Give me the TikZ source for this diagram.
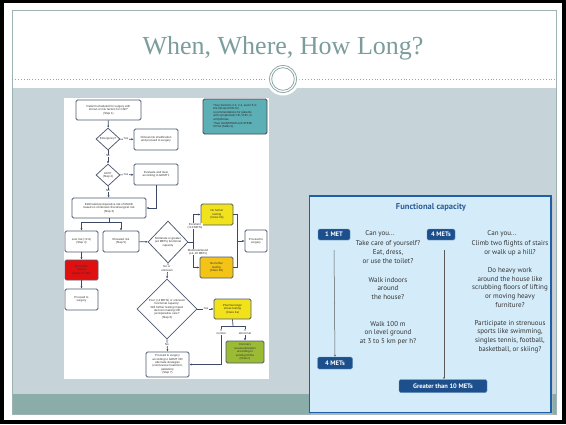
\documentclass[tikz,border=0pt]{standalone}
\usepackage{fontspec}
\setmainfont{Liberation Serif}
\newfontfamily\gill{PT Sans}
\newfontfamily\arial{Liberation Sans}
\usetikzlibrary{shapes.geometric,arrows.meta}
\definecolor{frameline}{HTML}{9DB3B3}
\definecolor{band}{HTML}{C6D3D9}
\definecolor{tealband}{HTML}{8AADA9}
\definecolor{titlec}{HTML}{7B9D9D}
\definecolor{ringc}{HTML}{8EA8A8}
\definecolor{fcborder}{HTML}{1F5FA8}
\definecolor{fcfill}{HTML}{D4ECF9}
\definecolor{fctitle}{HTML}{2B5C97}
\definecolor{badgec}{HTML}{1C4F8C}
\definecolor{badgebd}{HTML}{6A92C0}
\definecolor{fctext}{HTML}{333333}
\definecolor{flowbd}{HTML}{4F5A70}
\definecolor{flowln}{HTML}{3C4A68}
\definecolor{fyellow}{HTML}{F2E21B}
\definecolor{forange}{HTML}{F3C316}
\definecolor{fred}{HTML}{E01010}
\definecolor{fgreen}{HTML}{9CBB35}
\definecolor{fnote}{HTML}{5DAFB6}
\newcommand\ftx{\arial\fontsize{2.9}{3.4}\selectfont}
\begin{document}
\begin{tikzpicture}[x=1pt,y=-1pt,
  fb/.style={draw=flowbd,line width=0.75pt,rounded corners=1.5pt,fill=white,align=center,inner sep=0pt,font=\ftx,text=black!80},
  fd/.style={diamond,draw=flowbd,line width=0.75pt,fill=white,align=center,inner sep=0pt,font=\ftx,text=black!80},
  ar/.style={draw=flowln,line width=0.7pt,-{Latex[length=2.2pt,width=2pt]}},
  ln/.style={draw=flowln,line width=0.7pt},
  lab/.style={font=\ftx,inner sep=0.3pt,fill=white,align=center,text=black!80},
  badge/.style={fill=badgec,draw=badgebd,line width=0.4pt,rounded corners=1.5pt,text=white,font=\gill\bfseries\fontsize{6.5}{7}\selectfont,inner sep=0pt},
  fct/.style={font=\gill\fontsize{7}{8.6}\selectfont,text=fctext,align=center,inner sep=0pt},
  fcar/.style={draw=black!65,line width=0.5pt,-{Latex[length=2pt,width=2pt]}}
]
\useasboundingbox (0,0) rectangle (566,424);
% slide frame
\fill[black] (0,0) rectangle (566,424);
\fill[white] (4,3) rectangle (562,420);
\fill[band] (12,88) rectangle (556,394);
\fill[tealband] (12,394) rectangle (556,414);
\draw[frameline,line width=0.8pt] (12,10) rectangle (556,414);
\draw[ringc,line width=0.9pt,dotted] (12,79) -- (556,79);
\fill[white] (283,79) circle (16.5);
\draw[ringc,line width=0.8pt] (283,79) circle (13.5);
\draw[ringc,line width=0.8pt] (283,79) circle (11.3);
\node[anchor=base,text=titlec,font=\fontsize{26}{30}\selectfont,inner sep=0pt] (title) at (283,54) {When, Where, How Long?};

% ---------------- flowchart image ----------------
\fill[white] (64,98) rectangle (269,379);
\node[fb,minimum width=65,minimum height=20] (s1) at (108.5,110) {Patient scheduled for surgery with\\known or risk factors for CAD*\\(Step 1)};
\node[fd,minimum width=24,minimum height=22] (em) at (108,139) {Emergency?};
\node[fb,minimum width=44,minimum height=21] (clin) at (156,139.5) {Clinical risk stratification\\and proceed to surgery};
\node[fd,minimum width=24,minimum height=22] (acs) at (108,175) {ACS†\\(Step 2)};
\node[fb,minimum width=44,minimum height=21] (gdmt) at (156,174.5) {Evaluate and treat\\according to GDMT‡};
\node[fb,minimum width=74,minimum height=20] (s3) at (109,208) {Estimated perioperative risk of MACE\\based on combined clinical/surgical risk\\(Step 3)};
\node[fb,minimum width=33,minimum height=21] (low) at (81.5,241.5) {Low risk (<1\%)\\(Step 4)};
\node[fb,minimum width=36,minimum height=21] (elev) at (121,241.5) {Elevated risk\\(Step 5)};
\node[fd,minimum width=40,minimum height=42] (fc) at (168,242) {Moderate or greater\\(≥4 METs) functional\\capacity};
\node[fb,fill=fyellow,minimum width=32,minimum height=21] (nf1) at (217,214.5) {No further\\testing\\(Class IIb)};
\node[fb,fill=forange,minimum width=33,minimum height=21] (nf2) at (216.5,267.5) {No further\\testing\\(Class IIb)};
\node[fb,minimum width=22,minimum height=22] (ps1) at (256,241) {Proceed to\\surgery};
\node[fb,fill=fred,minimum width=33,minimum height=20] (red) at (81.5,270) {No further\\testing\\(Class III: NB)};
\node[fb,minimum width=33,minimum height=21] (ps2) at (81.5,299.5) {Proceed to\\surgery};
\node[fd,minimum width=60,minimum height=60] (s6) at (167,309) {Poor (<4 METs) or unknown\\functional capacity:\\Will further testing impact\\decision making OR\\perioperative care?\\(Step 6)};
\node[fb,fill=fyellow,minimum width=37,minimum height=20] (ph) at (232.5,309) {Pharmacologic\\stress testing\\(Class IIa)};
\node[fb,fill=fgreen,minimum width=38,minimum height=22] (cor) at (245,352) {Coronary\\revascularization\\according to\\existing CPGs\\(Class I)};
\node[fb,minimum width=43,minimum height=25] (s7) at (167.5,364.5) {Proceed to surgery\\according to GDMT OR\\alternate strategies\\(noninvasive treatment,\\palliation)\\(Step 7)};
\node[fb,fill=fnote,draw=flowbd!80!black,minimum width=64,minimum height=35,align=left,text=black!85] (note) at (235,116.5) {*See Sections 2.2, 2.4, and 2.5 in\\the full-text CPG for\\recommendations for patients\\with symptomatic HF, VHD, or\\arrhythmias.\\[1pt]†See UA/NSTEMI and STEMI\\CPGs (Table 2).};

\coordinate (j1) at (109,222);
\coordinate (v1) at (193,242);
\coordinate (v2) at (237,241);
\coordinate (j2) at (233,326);
\coordinate (k) at (221,364.5);

\draw[ar] (s1) -- (em);
\draw[ar] (em) -- (clin);
\draw[ar] (em) -- (acs);
\draw[ar] (acs) -- (gdmt);
\draw[ar] (acs) -- (s3);
\draw[ar] (gdmt.south) |- (s3.east);
\draw[ln] (s3.south) -- (j1);
\draw[ar] (j1) -| (low.north);
\draw[ar] (j1) -| (elev.north);
\draw[ar] (elev) -- (fc);
\draw[ln] (fc.east) -- (v1);
\draw[ar] (v1) |- (nf1.west);
\draw[ar] (v1) |- (nf2.west);
\draw[ln] (nf1.east) -| (v2);
\draw[ln] (nf2.east) -| (v2);
\draw[ar] (v2) -- (ps1.west);
\draw[ar] (low) -- (red);
\draw[ar] (red) -- (ps2);
\draw[ar] (fc.south) -- (s6.north);
\draw[ar] (s6.east) -- (ph.west);
\draw[ln] (ph.south) -- (j2);
\draw[ar] (j2) -| (cor.north);
\draw[ln] (j2) -| (k);
\draw[ar] (k) -- (s7.east);
\draw[ar] (s6.south) -- (s7.north);

\node[lab] (l1) at (126,139) {Yes};
\node[lab] (l2) at (108,156) {No};
\node[lab] (l3) at (126,175) {Yes};
\node[lab] (l4) at (108,191) {No};
\node[lab] (l5) at (195,226) {Excellent\\(>10 METs)};
\node[lab] (l6) at (198,252) {Moderate/Good\\(≥4–10 METs)};
\node[lab] (l7) at (167,268.5) {No or\\unknown};
\node[lab] (l8) at (206,309) {Yes};
\node[lab] (l9) at (167,344.5) {No};
\node[lab] (l10) at (221,332) {If\\normal};
\node[lab] (l11) at (245,332) {If\\abnormal};

% ---------------- functional capacity ----------------
\fill[black!25,opacity=0.5] (311,197.5) rectangle (553,414.5);
\filldraw[fill=fcfill,draw=fcborder,line width=1.4pt] (309.5,196) rectangle (551,412.5);
\node[font=\gill\bfseries\fontsize{8.5}{10}\selectfont,text=fctitle] (fctitle) at (431,207) {Functional capacity};
\node[badge,minimum width=32,minimum height=11] (m1) at (334,234.5) {1 MET};
\node[badge,minimum width=28,minimum height=11] (m4) at (441,234.5) {4 METs};
\node[badge,minimum width=35,minimum height=12] (m4b) at (335,363) {4 METs};
\node[badge,minimum width=88,minimum height=13] (m10) at (443,386) {Greater than 10 METs};
\node[fct] (c1) at (380,234) {Can you...};
\node[fct] (c2) at (502,234) {Can you...};
\node[fct] (p1) at (388,252) {Take care of yourself?\\Eat, dress,\\or use the toilet?};
\node[fct] (p2) at (388,288.5) {Walk indoors\\around\\the house?};
\node[fct] (p3) at (388,333) {Walk 100 m\\on level ground\\at 3 to 5 km per h?};
\node[fct] (q1) at (510,248) {Climb two flights of stairs\\or walk up a hill?};
\node[fct] (q2) at (510,287.5) {Do heavy work\\around the house like\\scrubbing floors of lifting\\or moving heavy\\furniture?};
\node[fct] (q3) at (510,336.5) {Participate in strenuous\\sports like swimming,\\singles tennis, football,\\basketball, or skiing?};
\coordinate (a1) at (334,250);
\coordinate (a2) at (444,250);
\draw[fcar] (a1) -- (m4b.north);
\draw[fcar] (a2) -- (m10.north -| a2);
\end{tikzpicture}
\end{document}
